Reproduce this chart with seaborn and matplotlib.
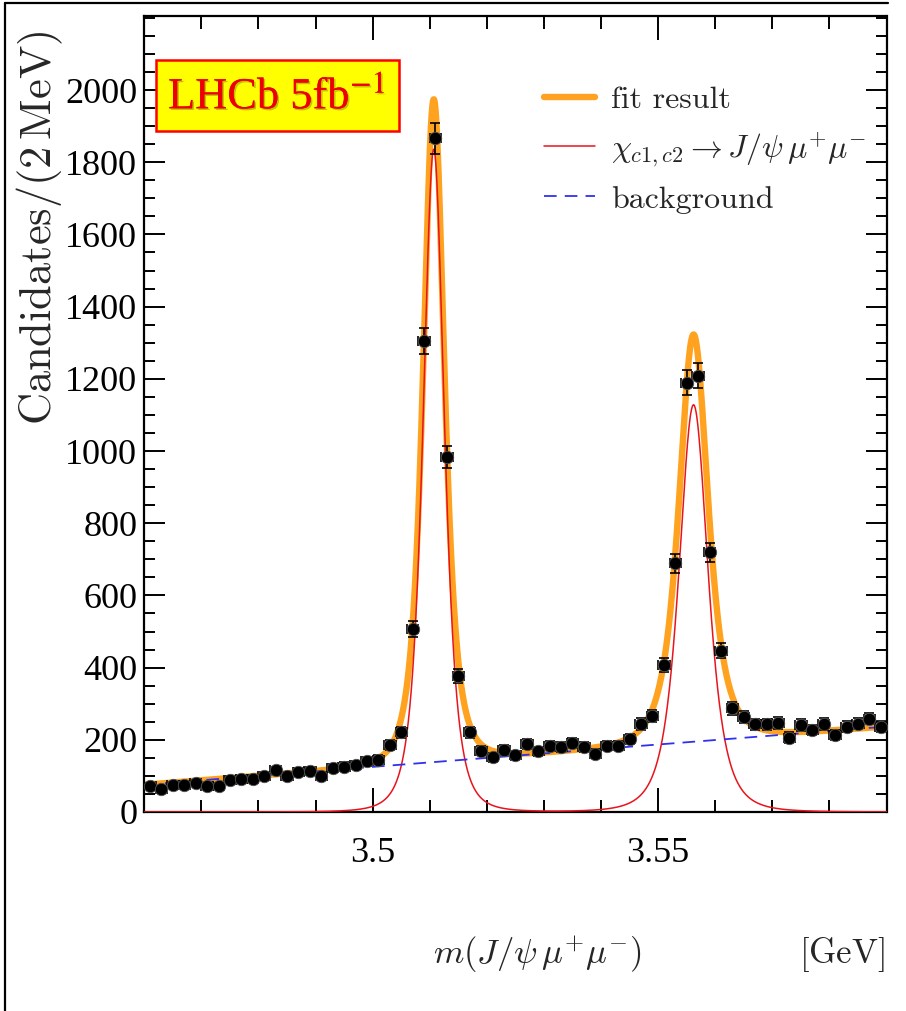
import numpy as np
import pandas as pd
import matplotlib
matplotlib.use("Agg")
import matplotlib.pyplot as plt
import seaborn as sns
from matplotlib.ticker import MultipleLocator, FixedLocator, FuncFormatter
from matplotlib.lines import Line2D
from matplotlib.patches import Rectangle
import matplotlib.patheffects as pe

# ---------------- data ----------------
mass_lo = 3.46          # GeV
bin_width = 0.002       # GeV (2 MeV bins)
counts = [72, 64, 74, 76, 80, 72, 73, 89, 91, 92,
          100, 115, 100, 111, 113, 101, 123, 126, 131, 140,
          145, 186, 221, 507, 1305, 1866, 983, 377, 221, 170,
          151, 172, 157, 188, 168, 184, 181, 192, 181, 161,
          184, 184, 202, 244, 266, 407, 689, 1189, 1209, 719,
          447, 287, 264, 243, 243, 247, 206, 241, 227, 244,
          213, 236, 245, 259, 236]

# fit model parameters
m_c1, A_c1, s_c1 = 3.5107, 1836.0, 0.00197
m_c2, A_c2, s_c2 = 3.5562, 1128.0, 0.0027
nu_t = 3.0
bg_at_350, bg_slope = 125.0, 1240.0

y_ticks_major = [0, 200, 400, 600, 800, 1000, 1200, 1400, 1600, 1800, 2000]

legend_labels = ["fit result",
                 r"$\chi_{c1,c2} \rightarrow J/\psi\,\mu^{+}\mu^{-}$",
                 "background"]

# ---------------- derived ----------------
centers = mass_lo + bin_width * (np.arange(len(counts)) + 0.5)
df = pd.DataFrame({"m": centers, "n": counts})

grid = np.linspace(3.46, 3.59, 2000)


def tpeak(m, mu, A, s):
    return A * (1 + ((m - mu) / s) ** 2 / nu_t) ** (-(nu_t + 1) / 2)


sig = tpeak(grid, m_c1, A_c1, s_c1) + tpeak(grid, m_c2, A_c2, s_c2)
bkg = bg_at_350 + bg_slope * (grid - 3.50)
tot = sig + bkg
curves = pd.DataFrame({"m": grid, "sig": sig, "bkg": bkg, "tot": tot})

# ---------------- style ----------------
sns.set_style("ticks")
plt.rcParams["font.family"] = ["Liberation Serif", "DejaVu Serif"]
plt.rcParams["mathtext.fontset"] = "cm"

fig = plt.figure(figsize=(9.06, 10.11), dpi=100)
ax = fig.add_axes([144.3 / 906, 1 - 812 / 1011, (886.5 - 144.3) / 906, (812 - 16) / 1011])

c_orange = "#ffa21f"
c_red = "#e8141c"
c_blue = "#3030f0"

sns.lineplot(data=curves, x="m", y="tot", ax=ax, color=c_orange, lw=4.6,
             estimator=None, sort=False, label=legend_labels[0], zorder=2)
sns.lineplot(data=curves, x="m", y="sig", ax=ax, color=c_red, lw=1.1,
             estimator=None, sort=False, label=legend_labels[1], zorder=3)
sns.lineplot(data=curves, x="m", y="bkg", ax=ax, color=c_blue, lw=1.3,
             estimator=None, sort=False, label=legend_labels[2], zorder=3,
             dashes=False)
ax.lines[-1].set_dashes([7, 4.5])

ax.errorbar(df["m"], df["n"], yerr=np.sqrt(df["n"]), xerr=bin_width / 2,
            fmt="none", ecolor="black", elinewidth=1.2, capsize=3.5,
            capthick=1.2, zorder=4)
sns.scatterplot(data=df, x="m", y="n", ax=ax, color="black", s=80,
                edgecolor="#555555", linewidth=0.6, zorder=5, legend=False)

ax.set_xlim(3.46, 3.59)
ax.set_ylim(0, 2205)
ax.set_xlabel("")
ax.set_ylabel("")

ax.xaxis.set_major_locator(MultipleLocator(0.05))
ax.xaxis.set_minor_locator(MultipleLocator(0.01))
ax.yaxis.set_major_locator(FixedLocator(y_ticks_major))
ax.yaxis.set_minor_locator(MultipleLocator(50))
ax.xaxis.set_major_formatter(FuncFormatter(lambda v, p: f"{v:g}"))
ax.yaxis.set_major_formatter(FuncFormatter(lambda v, p: f"{v:g}"))

ax.tick_params(which="both", direction="in", top=True, right=True,
               width=1.4, colors="black")
ax.tick_params(axis="x", which="major", length=17, pad=18, labelsize=26)
ax.tick_params(axis="x", which="minor", length=9)
ax.tick_params(axis="y", which="major", length=15, pad=5, labelsize=26)
ax.tick_params(axis="y", which="minor", length=8)
for sp in ax.spines.values():
    sp.set_linewidth(1.6)
    sp.set_color("black")
    sp.set_visible(True)

# legend
leg = ax.legend(loc="upper left", bbox_to_anchor=(0.538, 0.912), frameon=False,
                fontsize=23, handlelength=1.6, handletextpad=0.5,
                labelspacing=0.5, borderpad=0, borderaxespad=0)
for t in leg.get_texts():
    t.set_fontfamily("cmr10")
    t.set_math_fontfamily("cm")

# LHCb box
ax.add_patch(Rectangle((155.7 / 906, 1 - 131 / 1011), (399.3 - 155.7) / 906,
                       (131 - 60) / 1011, transform=fig.transFigure,
                       facecolor="#ffff00", edgecolor="#ff0000", lw=1.8,
                       zorder=6, clip_on=False))
fig.text(277 / 906, 1 - 97 / 1011, r"LHCb 5fb$^{-1}$", color="#ee0000",
         fontsize=32, ha="center", va="center", math_fontfamily="stix",
         zorder=7,
         path_effects=[pe.withSimplePatchShadow(offset=(1.2, -1.2),
                                               shadow_rgbFace="#888800",
                                               alpha=0.5), pe.Normal()])

# axis titles
fig.text(40 / 906, 1 - 228 / 1011, r"$\mathrm{Candidates/(2\,MeV)}$",
         rotation=90, ha="center", va="center", fontsize=32,
         math_fontfamily="cm")
fig.text(538 / 906, 1 - 955 / 1011, r"$m(J/\psi\,\mu^{+}\mu^{-})$",
         ha="center", va="center", fontsize=25, math_fontfamily="cm")
fig.text(885 / 906, 1 - 955 / 1011, r"$\mathrm{[GeV]}$",
         ha="right", va="center", fontsize=25, math_fontfamily="cm")

# outer frame lines of the screenshot
fig.add_artist(Line2D([5 / 906, 5 / 906], [0, 1 - 3 / 1011],
                      transform=fig.transFigure, color="black", lw=1.6))
fig.add_artist(Line2D([5 / 906, 888 / 906], [1 - 3 / 1011, 1 - 3 / 1011],
                      transform=fig.transFigure, color="black", lw=1.6))

fig.savefig("out.png", dpi=100)
